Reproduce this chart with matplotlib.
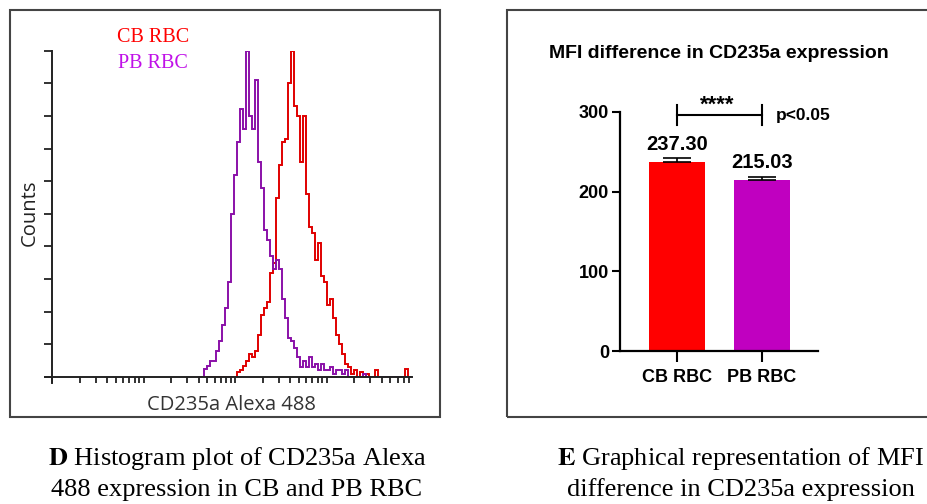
import numpy as np
import matplotlib.pyplot as plt
from matplotlib.patches import Rectangle
from matplotlib.ticker import LogLocator, NullFormatter, MultipleLocator

plt.rcParams["mathtext.fontset"] = "stix"

# Histogram data (counts as % of peak), log-spaced bins
bin_edges = np.logspace(1.596, 3.957, 73)
pb_counts = [0, 0, 2.5, 3.5, 5, 5, 8, 11, 16, 21, 29, 50, 62, 72, 82, 76, 100, 80,
             76, 91, 66, 58, 45, 42, 37, 33, 36, 33, 24, 18, 12, 11, 9, 6, 3, 5,
             3, 6, 3, 4, 2, 4, 2, 2, 3, 1, 2, 2, 1, 2, 0, 0, 0, 0, 0, 1, 0, 0,
             0, 0, 0, 0, 0, 0, 0, 0, 0, 0, 0, 0, 0, 0]
cb_counts = [0, 0, 0, 0, 0, 0, 0, 0, 0, 0, 0, 0, 0, 1.5, 2, 3.5, 5, 7, 6, 8, 13,
             19, 21, 23, 32, 35, 55, 65, 72, 73, 90, 100, 83, 80, 66, 80, 56, 46,
             44, 36, 41, 31, 29, 22, 24, 18, 13, 10, 7, 4, 3, 1, 2, 0, 1.5, 0, 1,
             0, 0, 2, 0, 0, 0, 0, 0, 0, 0, 0, 0, 2.5, 0, 0]

# MFI bar chart data
groups = ["CB RBC", "PB RBC"]
mfi = [237.30, 215.03]
mfi_err = [4.6, 3.8]

W, H = 928, 504
fig = plt.figure(figsize=(W / 100, H / 100), dpi=100)


def fx(px):
    return px / W


def fy(py):
    return 1 - py / H


# Panel frames
for x0, x1 in [(10, 440), (507, 932)]:
    fig.add_artist(Rectangle((fx(x0), fy(417)), fx(x1) - fx(x0), fy(10) - fy(417),
                             transform=fig.transFigure, fill=False,
                             edgecolor="#444444", lw=1.5))

# ---- Panel D: histogram ----
ax1 = fig.add_axes([fx(52), fy(377), fx(412) - fx(52), fy(50.7) - fy(377)])
ax1.stairs(cb_counts, bin_edges, color="#e00000", lw=1.4)
ax1.stairs(pb_counts, bin_edges, color="#8a10a8", lw=1.4)
ax1.set_xscale("log")
ax1.set_xlim(1, 10 ** 3.934)
ax1.set_ylim(0, 100)
ax1.xaxis.set_major_locator(LogLocator(base=10, subs=np.arange(1, 10), numticks=50))
ax1.xaxis.set_minor_locator(LogLocator(base=10, subs=np.arange(1, 10), numticks=50))
ax1.xaxis.set_major_formatter(NullFormatter())
ax1.xaxis.set_minor_formatter(NullFormatter())
ax1.yaxis.set_major_locator(MultipleLocator(10))
ax1.yaxis.set_major_formatter(NullFormatter())
for s in ["top", "right"]:
    ax1.spines[s].set_visible(False)
for s in ["left", "bottom"]:
    ax1.spines[s].set_linewidth(1.4)
    ax1.spines[s].set_color("#222222")
ax1.tick_params(axis="x", which="both", direction="out", length=4, width=1.3, color="#222222")
ax1.tick_params(axis="y", direction="out", length=6, width=1.3, color="#222222")
# axes cross slightly at the origin
ax1.plot([-0.02, 0], [0, 0], transform=ax1.transAxes, color="#222222", lw=1.4, clip_on=False)
ax1.plot([0, 0], [-0.018, 0], transform=ax1.transAxes, color="#222222", lw=1.4, clip_on=False)

fig.text(fx(30), fy(213), "Counts", rotation=90, ha="center", va="center",
         family="Open Sans", fontsize=14.5, color="#222222")
fig.text(fx(231), fy(405), "CD235a Alexa 488", ha="center", va="center",
         family="Open Sans", fontsize=14.5, color="#333333")
fig.text(fx(153), fy(38), "CB RBC", ha="center", va="center",
         family="Liberation Serif", fontsize=14.5, color="#ff0000")
fig.text(fx(153), fy(64), "PB RBC", ha="center", va="center",
         family="Liberation Serif", fontsize=14.5, color="#c010e8")

# ---- Panel E: bar chart ----
ax2 = fig.add_axes([fx(620), fy(351), fx(818) - fx(620), fy(112) - fy(351)])
xpos = np.arange(len(groups))
ax2.bar(xpos, mfi, width=0.667, color=["#ff0000", "#c000c0"])
ax2.errorbar(xpos, mfi, yerr=[[0, 0], mfi_err], fmt="none", ecolor="black",
             elinewidth=1.2, capsize=10, capthick=1.2)
ax2.set_xlim(-0.67, 1.66)
ax2.set_ylim(0, 300)
ax2.set_xticks(xpos)
ax2.set_xticklabels(groups)
ax2.set_yticks([0, 100, 200, 300])
for s in ["top", "right"]:
    ax2.spines[s].set_visible(False)
for s in ["left", "bottom"]:
    ax2.spines[s].set_linewidth(1.6)
ax2.tick_params(axis="y", direction="out", length=6, width=1.5, pad=2)
ax2.tick_params(axis="x", direction="out", length=8, width=1.5, pad=5)
for lab in ax2.get_yticklabels():
    lab.set_family("Liberation Sans")
    lab.set_fontweight("bold")
    lab.set_fontsize(13)
for lab in ax2.get_xticklabels():
    lab.set_family("Liberation Sans")
    lab.set_fontweight("bold")
    lab.set_fontsize(13)

for x, v in zip(xpos, mfi):
    ax2.text(x, v + 15, f"{v:.2f}", ha="center", va="baseline",
             family="Liberation Sans", fontweight="bold", fontsize=14.5)

# significance bracket
ax2.plot([0, 1], [296, 296], color="black", lw=1.5, clip_on=False)
ax2.plot([0, 0], [284, 309], color="black", lw=1.5, clip_on=False)
ax2.plot([1, 1], [284, 309], color="black", lw=1.5, clip_on=False)
ax2.text(0.48, 309, "****", ha="center", va="center", family="Liberation Sans",
         fontweight="bold", fontsize=16, clip_on=False)
ax2.text(1.165, 296, "p<0.05", ha="left", va="center", family="Liberation Sans",
         fontweight="bold", fontsize=12.5, clip_on=False)

fig.text(fx(719), fy(53), "MFI difference in CD235a expression", ha="center", va="center",
         family="Liberation Sans", fontweight="bold", fontsize=14)

# ---- Captions ----
fig.text(fx(237), fy(458), r"$\mathbf{D}$ Histogram plot of CD235a Alexa", ha="center", va="center",
         family="Liberation Serif", fontsize=19)
fig.text(fx(237), fy(490), "488 expression in CB and PB RBC", ha="center", va="center",
         family="Liberation Serif", fontsize=19)
fig.text(fx(741), fy(458), r"$\mathbf{E}$ Graphical representation of MFI", ha="center", va="center",
         family="Liberation Serif", fontsize=19)
fig.text(fx(741), fy(490), "difference in CD235a expression", ha="center", va="center",
         family="Liberation Serif", fontsize=19)

fig.savefig("out.png", dpi=100)
